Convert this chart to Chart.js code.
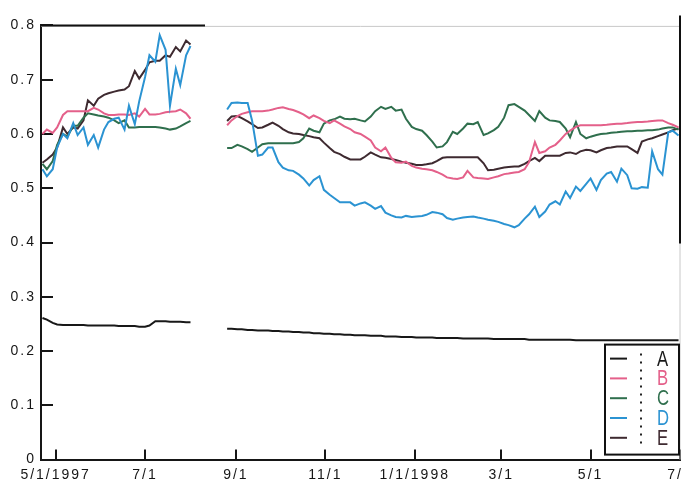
<!DOCTYPE html>
<html>
<head>
<meta charset="utf-8">
<script src="https://cdn.jsdelivr.net/npm/chart.js@4.4.1/dist/chart.umd.min.js"></script>
<style>
  html, body { margin: 0; padding: 0; overflow: hidden; background: #fff; }
  #wrap { width: 720px; height: 485px; }
</style>
</head>
<body>
<div id="wrap"><canvas id="chart" width="720" height="485"></canvas></div>
<script>
// Observation dates (twice weekly); the single mid-August entry is a break in the record.
const dates = [
  '1997-04-22','1997-04-25','1997-04-29','1997-05-02','1997-05-06','1997-05-09','1997-05-13','1997-05-16',
  '1997-05-20','1997-05-23','1997-05-27','1997-05-30','1997-06-03','1997-06-06','1997-06-10','1997-06-13',
  '1997-06-17','1997-06-20','1997-06-24','1997-06-27','1997-07-01','1997-07-04','1997-07-08','1997-07-11',
  '1997-07-15','1997-07-18','1997-07-22','1997-07-25','1997-07-29','1997-08-01',
  '1997-08-12',
  '1997-08-26','1997-08-29',
  '1997-09-02','1997-09-05','1997-09-09','1997-09-12','1997-09-16','1997-09-19','1997-09-23','1997-09-26','1997-09-30',
  '1997-10-03','1997-10-07','1997-10-10','1997-10-14','1997-10-17','1997-10-21','1997-10-24','1997-10-28','1997-10-31',
  '1997-11-04','1997-11-07','1997-11-11','1997-11-14','1997-11-18','1997-11-21','1997-11-25','1997-11-28',
  '1997-12-02','1997-12-05','1997-12-09','1997-12-12','1997-12-16','1997-12-19','1997-12-23','1997-12-26','1997-12-30',
  '1998-01-02','1998-01-06','1998-01-09','1998-01-13','1998-01-16','1998-01-20','1998-01-23','1998-01-27','1998-01-30',
  '1998-02-03','1998-02-06','1998-02-10','1998-02-13','1998-02-17','1998-02-20','1998-02-24','1998-02-27',
  '1998-03-03','1998-03-06','1998-03-10','1998-03-13','1998-03-17','1998-03-20','1998-03-24','1998-03-27','1998-03-31',
  '1998-04-03','1998-04-07','1998-04-10','1998-04-14','1998-04-17','1998-04-21','1998-04-24','1998-04-28',
  '1998-05-01','1998-05-05','1998-05-08','1998-05-12','1998-05-15','1998-05-19','1998-05-22','1998-05-26','1998-05-29',
  '1998-06-02','1998-06-05','1998-06-09','1998-06-12','1998-06-16','1998-06-19','1998-06-23','1998-06-26','1998-06-30'
];

const seriesA = [
  0.261,0.258,0.252,0.249,0.248,0.248,0.248,0.248,0.248,0.247,0.247,0.247,0.247,0.247,0.247,0.246,
  0.246,0.246,0.246,0.245,0.245,0.247,0.255,0.255,0.255,0.254,0.254,0.254,0.253,0.253,
  null,
  0.241,0.241,
  0.240,0.240,0.239,0.239,0.238,0.238,0.238,0.237,0.237,
  0.236,0.236,0.235,0.235,0.234,0.234,0.233,0.233,0.232,
  0.232,0.231,0.231,0.230,0.230,0.229,0.229,0.229,
  0.228,0.228,0.228,0.227,0.227,0.227,0.226,0.226,0.226,
  0.225,0.225,0.225,0.225,0.224,0.224,0.224,0.224,0.224,
  0.223,0.223,0.223,0.223,0.223,0.223,0.222,0.222,
  0.222,0.222,0.222,0.222,0.222,0.221,0.221,0.221,0.221,
  0.221,0.221,0.221,0.221,0.221,0.220,0.220,0.220,
  0.220,0.220,0.220,0.220,0.220,0.220,0.220,0.220,0.220,
  0.220,0.220,0.220,0.220,0.220,0.220,0.220,0.220,0.220
];

const seriesB = [
  0.600,0.608,0.602,0.612,0.635,0.642,0.642,0.642,0.642,0.642,0.648,0.645,0.638,0.635,0.635,0.636,
  0.636,0.635,0.638,0.632,0.646,0.636,0.636,0.637,0.640,0.641,0.642,0.645,0.638,0.628,
  null,
  0.616,0.625,
  0.633,0.637,0.640,0.642,0.642,0.642,0.643,0.645,0.648,
  0.649,0.646,0.644,0.640,0.636,0.629,0.634,0.629,0.624,
  0.620,0.625,0.619,0.614,0.609,0.603,0.600,0.595,
  0.588,0.575,0.568,0.575,0.556,0.548,0.547,0.549,0.541,
  0.538,0.536,0.535,0.533,0.530,0.525,0.520,0.518,0.517,
  0.520,0.532,0.520,0.519,0.518,0.517,0.520,0.522,
  0.526,0.527,0.529,0.530,0.535,0.548,0.585,0.565,0.568,
  0.575,0.580,0.588,0.600,0.606,0.613,0.616,0.616,
  0.616,0.616,0.616,0.617,0.618,0.619,0.619,0.620,0.621,
  0.622,0.622,0.623,0.624,0.625,0.625,0.620,0.617,0.612
];

const seriesC = [
  0.545,0.535,0.550,0.580,0.600,0.595,0.615,0.615,0.630,0.638,0.636,0.634,0.632,0.630,0.625,0.620,
  0.625,0.612,0.612,0.613,0.613,0.613,0.613,0.612,0.610,0.608,0.610,0.614,0.620,0.624,
  null,
  0.574,0.574,
  0.580,0.577,0.572,0.567,0.575,0.581,0.583,0.583,0.583,
  0.583,0.583,0.583,0.585,0.592,0.610,0.606,0.603,0.619,
  0.625,0.627,0.632,0.628,0.627,0.628,0.625,0.623,
  0.632,0.642,0.650,0.646,0.650,0.643,0.645,0.628,0.613,
  0.609,0.606,0.598,0.586,0.575,0.577,0.585,0.604,0.600,
  0.610,0.619,0.618,0.622,0.598,0.601,0.607,0.613,
  0.630,0.653,0.655,0.650,0.643,0.635,0.624,0.642,0.630,
  0.625,0.624,0.622,0.610,0.594,0.622,0.600,0.592,
  0.595,0.598,0.600,0.601,0.602,0.603,0.604,0.605,0.605,
  0.606,0.606,0.607,0.607,0.608,0.610,0.612,0.612,0.608
];

const seriesD = [
  0.535,0.522,0.535,0.575,0.600,0.592,0.620,0.598,0.612,0.580,0.598,0.575,0.608,0.622,0.628,0.630,
  0.608,0.652,0.618,0.660,0.705,0.745,0.733,0.782,0.755,0.652,0.720,0.690,0.745,0.762,
  null,
  0.645,0.657,
  0.658,0.657,0.657,0.625,0.560,0.562,0.575,0.575,0.548,
  0.538,0.533,0.532,0.525,0.518,0.505,0.515,0.522,0.497,
  0.488,0.482,0.474,0.474,0.474,0.468,0.472,0.474,
  0.468,0.462,0.467,0.455,0.450,0.447,0.446,0.449,0.447,
  0.448,0.449,0.451,0.456,0.455,0.452,0.445,0.442,0.444,
  0.446,0.447,0.448,0.446,0.444,0.442,0.440,0.438,
  0.434,0.432,0.428,0.432,0.444,0.452,0.466,0.447,0.457,
  0.470,0.476,0.470,0.494,0.482,0.503,0.495,0.508,
  0.518,0.497,0.515,0.527,0.530,0.512,0.536,0.524,0.500,
  0.499,0.502,0.501,0.568,0.535,0.525,0.603,0.606,0.597
];

const seriesE = [
  0.547,0.553,0.562,0.575,0.612,0.600,0.612,0.610,0.625,0.662,0.652,0.665,0.672,0.675,0.678,0.680,
  0.682,0.688,0.716,0.702,0.718,0.732,0.735,0.735,0.745,0.742,0.760,0.752,0.772,0.765,
  null,
  0.624,0.632,
  0.633,0.629,0.623,0.618,0.611,0.612,0.617,0.621,0.615,
  0.609,0.603,0.601,0.600,0.598,0.596,0.594,0.592,0.584,
  0.574,0.567,0.563,0.558,0.553,0.553,0.553,0.558,
  0.566,0.562,0.557,0.556,0.554,0.552,0.549,0.547,0.545,
  0.543,0.543,0.544,0.546,0.550,0.556,0.557,0.557,0.557,
  0.557,0.557,0.557,0.557,0.546,0.533,0.534,0.536,
  0.538,0.539,0.540,0.540,0.545,0.550,0.556,0.550,0.560,
  0.560,0.560,0.560,0.565,0.566,0.563,0.568,0.571,
  0.570,0.566,0.570,0.574,0.575,0.577,0.577,0.577,0.572,
  0.565,0.586,0.590,0.592,0.596,0.599,0.603,0.607,0.610
];

const seriesNames = ['A', 'B', 'C', 'D', 'E'];
const seriesColors = ['#181818', '#e4608a', '#2f6f4d', '#2b93d2', '#3e2a30'];

const tickDates = ['1997-05-01','1997-07-01','1997-09-01','1997-11-01','1998-01-01','1998-03-01','1998-05-01','1998-07-01'];
const tickLabels = ['5/1/1997','7/1','9/1','11/1','1/1/1998','3/1','5/1','7/1'];
const axisStart = '1997-04-21';
const axisEnd = '1998-07-01';

// day count from 1 May 1997, used as the linear x value
const DAY_MS = 86400000;
const ORIGIN = Date.UTC(1997, 4, 1);
function dayNum(s) {
  const [y, m, d] = s.split('-').map(Number);
  return (Date.UTC(y, m - 1, d) - ORIGIN) / DAY_MS;
}

const allSeries = [seriesA, seriesB, seriesC, seriesD, seriesE];
const drawOrder = [2, 3, 4, 1, 5];

const datasets = allSeries.map((vals, k) => ({
  label: seriesNames[k],
  data: dates.map((d, i) => ({ x: dayNum(d), y: vals[i] })),
  borderColor: seriesColors[k],
  backgroundColor: seriesColors[k],
  borderWidth: 2,
  pointRadius: 0,
  tension: 0,
  fill: false,
  spanGaps: false,
  order: drawOrder[k]
}));

// wider glyph spacing for the axis numbers
const spacedText = {
  id: 'spacedText',
  beforeLayout(chart) { chart.ctx.letterSpacing = '2px'; },
  beforeDraw(chart) { chart.ctx.letterSpacing = '2px'; },
  afterDraw(chart) { chart.ctx.letterSpacing = '0px'; }
};

// outer rules and the boxed key in the lower right corner
const frameAndKey = {
  id: 'frameAndKey',
  afterDraw(chart) {
    const { ctx, chartArea: a } = chart;
    ctx.save();
    ctx.letterSpacing = '0px';

    // faint full frame, with the darker stretches on top of it
    ctx.strokeStyle = '#c8c8c8';
    ctx.lineWidth = 1;
    ctx.beginPath();
    ctx.moveTo(a.left, a.top + 1);
    ctx.lineTo(a.right, a.top + 1);
    ctx.lineTo(a.right, a.bottom);
    ctx.stroke();

    ctx.strokeStyle = '#111';
    ctx.lineWidth = 2;
    ctx.beginPath();
    ctx.moveTo(a.left, a.top);
    ctx.lineTo(a.left + 164, a.top);
    ctx.stroke();
    ctx.beginPath();
    ctx.moveTo(a.right, a.top - 10);
    ctx.lineTo(a.right, a.top + 218);
    ctx.stroke();

    const w = 74, h = 110;
    const bx = a.right - w - 1, by = a.bottom - 5 - h;
    ctx.strokeRect(bx, by, w, h);

    chart.data.datasets.forEach((ds, i) => {
      const y = by + 14 + i * 19.8;
      ctx.strokeStyle = ds.borderColor;
      ctx.lineWidth = 2;
      ctx.beginPath();
      ctx.moveTo(bx + 5, y);
      ctx.lineTo(bx + 22, y);
      ctx.stroke();
      ctx.save();
      ctx.translate(bx + 52, y);
      ctx.scale(0.76, 1);
      ctx.fillStyle = ds.borderColor;
      ctx.font = '22px "Liberation Sans", Arial, sans-serif';
      ctx.textBaseline = 'middle';
      ctx.textAlign = 'left';
      ctx.fillText(ds.label, 0, 1);
      ctx.restore();
    });

    ctx.strokeStyle = '#222';
    ctx.lineWidth = 2;
    ctx.setLineDash([2, 6]);
    ctx.beginPath();
    ctx.moveTo(bx + 36, by + 9);
    ctx.lineTo(bx + 36, by + h - 8);
    ctx.stroke();
    ctx.restore();
  }
};

const tickFont = { family: '"Liberation Sans", Arial, sans-serif', size: 14 };

new Chart(document.getElementById('chart'), {
  type: 'line',
  data: { datasets },
  plugins: [spacedText, frameAndKey],
  options: {
    responsive: false,
    devicePixelRatio: 1,
    animation: false,
    layout: { padding: { top: 17, right: 40, bottom: 0, left: 0 } },
    plugins: { legend: { display: false }, tooltip: { enabled: false } },
    scales: {
      x: {
        type: 'linear',
        min: dayNum(axisStart),
        max: dayNum(axisEnd),
        afterBuildTicks: (scale) => { scale.ticks = tickDates.map(d => ({ value: dayNum(d) })); },
        afterFit: (scale) => { scale.height = 24; },
        ticks: {
          autoSkip: false,
          maxRotation: 0,
          padding: 17,
          color: '#161616',
          font: tickFont,
          callback: (v, i) => tickLabels[i]
        },
        grid: { drawOnChartArea: false, drawTicks: true, tickLength: -10, color: '#161616', lineWidth: 2 },
        border: { display: true, color: '#161616', width: 2 }
      },
      y: {
        min: 0,
        max: 0.8,
        afterFit: (scale) => { scale.width = 41; },
        ticks: {
          stepSize: 0.1,
          padding: 17,
          color: '#161616',
          font: tickFont,
          callback: (v) => (v === 0 ? '0' : v.toFixed(1))
        },
        grid: { drawOnChartArea: false, drawTicks: true, tickLength: -12, color: '#161616', lineWidth: 2 },
        border: { display: true, color: '#161616', width: 2 }
      }
    }
  }
});
</script>
</body>
</html>
